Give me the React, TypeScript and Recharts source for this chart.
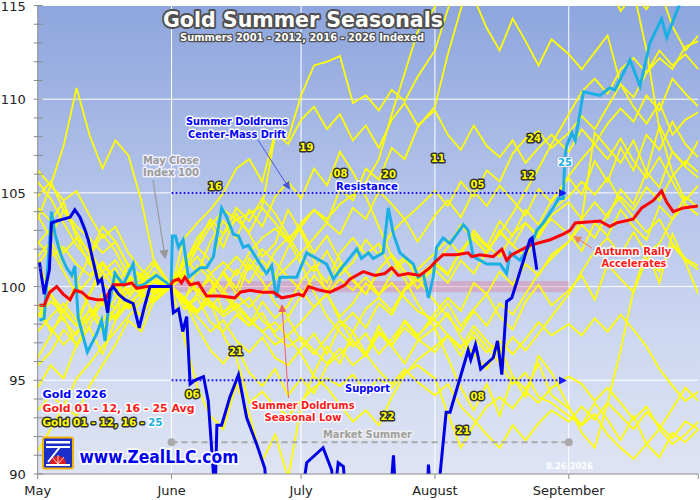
import React from 'react';
import { LineChart, Line, XAxis, YAxis, CartesianGrid, ReferenceLine, ReferenceArea, ReferenceDot } from 'recharts';

// x axis = calendar days since May 1 (Oct 1 = 153)
const monthTicks = [0, 31, 61, 92, 123, 153];
const monthNames = ['May', 'June', 'July', 'August', 'September', ''];
const yTicks = [90, 91, 92, 93, 94, 95, 96, 97, 98, 99, 100, 101, 102, 103, 104, 105, 106, 107, 108, 109, 110, 111, 112, 113, 114, 115];

// sample days shared by the older summers (10 per month)
const yearDays = [
  0, 3, 6, 9, 12, 15, 18, 21, 24, 27,
  31, 34, 37, 40, 43, 46, 49, 52, 55, 58,
  61, 64, 67, 70, 73, 76, 79, 82, 85, 88,
  92, 95, 98, 101, 104, 107, 110, 113, 116, 119,
  123, 126, 129, 132, 135, 138, 141, 144, 147, 150,
  153,
];

const gold01 = [102.3, 103.1, 101.8, 102.6, 101.2, 100.4, 101.0, 99.6, 100.3, 99.8,
  100, 99.2, 98.6, 99.5, 100.8, 101.6, 100.9, 102.0, 101.3, 100.5,
  99.8, 98.9, 99.6, 98.4, 99.1, 100.2, 99.5, 100.7, 101.4, 100.9,
  101.8, 102.5, 101.7, 103.0, 102.2, 101.6, 102.8, 103.4, 102.6, 103.8,
  104.5, 103.6, 108.2, 107.4, 106.6, 107.8, 106.1, 108.6, 107.2, 106.4, 105.8];
const gold02 = [94.6, 95.8, 95.1, 96.9, 97.8, 96.4, 98.2, 99.1, 98.5, 99.4,
  100, 101.2, 102.6, 103.4, 102.1, 103.9, 102.8, 101.6, 102.3, 104.1,
  102.9, 101.4, 99.6, 98.2, 97.1, 96.3, 97.5, 96.8, 98.2, 97.4,
  98.3, 99.1, 97.9, 98.8, 99.6, 98.4, 97.7, 99.2, 100.1, 99.0,
  99.8, 100.6, 99.3, 101.2, 100.4, 99.7, 101.5, 100.8, 102.2, 101.4, 100.9];
const gold03 = [95.8, 96.5, 97.7, 96.9, 98.3, 99.6, 98.8, 100.4, 99.7, 100.6,
  100, 99.1, 98.4, 97.6, 98.2, 97.1, 96.5, 97.3, 96.2, 95.8,
  96.7, 97.5, 96.4, 97.9, 98.6, 97.8, 99.1, 98.5, 99.8, 100.4,
  101.2, 100.6, 101.9, 102.8, 102.1, 103.5, 102.7, 104.1, 103.3, 104.6,
  105.8, 104.9, 106.7, 105.6, 107.4, 106.2, 108.1, 107.3, 108.8, 107.6, 106.9];
const gold04 = [103.8, 102.6, 104.1, 102.9, 101.7, 103.2, 102.4, 101.1, 100.6, 101.4,
  100, 99.3, 98.7, 99.6, 100.8, 99.9, 101.5, 100.6, 101.9, 102.6,
  103.1, 101.8, 102.7, 101.4, 100.3, 99.6, 100.9, 101.7, 100.8, 99.9,
  101.2, 102.1, 103.3, 102.5, 101.8, 103.0, 102.2, 101.6, 102.9, 103.6,
  102.8, 101.9, 103.4, 102.7, 104.1, 103.2, 102.5, 104.3, 103.6, 104.8, 104.2];
const gold05 = [104.8, 105.6, 104.1, 103.2, 102.6, 101.8, 102.4, 101.1, 100.5, 99.8,
  100, 101.4, 102.3, 103.6, 102.8, 104.2, 103.5, 104.7, 103.9, 102.7,
  101.6, 100.8, 101.9, 100.6, 101.3, 102.5, 101.7, 102.9, 103.6, 102.4,
  103.8, 104.6, 103.7, 105.1, 104.3, 105.4, 104.6, 103.8, 105.2, 104.5,
  105.9, 106.8, 107.6, 108.7, 109.5, 108.8, 110.2, 109.4, 111.1, 110.3, 109.6];
const gold06 = [103.6, 105.4, 107.5, 110.6, 108.1, 106.3, 107.8, 107.0, 104.6, 101.3,
  100, 97.2, 94.6, 93.1, 92.4, 94.8, 93.2, 90.7, 92.1, 89.8,
  93.6, 95.4, 96.8, 95.9, 97.6, 96.4, 97.9, 96.8, 95.9, 97.1,
  97.8, 98.6, 97.3, 96.4, 95.6, 96.8, 95.2, 94.5, 95.9, 94.2,
  93.5, 92.6, 93.8, 92.9, 91.8, 93.1, 91.6, 92.4, 93.5, 94.6, 93.9];
const gold07 = [101.2, 102.1, 100.8, 99.6, 100.4, 101.3, 100.2, 99.1, 99.7, 100.3,
  100, 98.8, 99.4, 98.1, 97.6, 98.5, 97.9, 99.2, 98.3, 99.0,
  100.3, 101.1, 100.2, 101.8, 102.6, 101.7, 102.3, 100.9, 101.6, 100.4,
  99.2, 98.4, 97.6, 98.7, 97.9, 99.1, 98.5, 99.6, 100.7, 101.5,
  102.4, 103.6, 104.5, 103.7, 105.2, 104.4, 106.1, 105.3, 107.2, 106.5, 107.8];
const gold08 = [99.1, 97.6, 98.4, 96.8, 97.9, 99.3, 98.2, 100.6, 99.4, 100.8,
  100, 101.6, 100.7, 102.4, 103.5, 102.6, 104.1, 103.2, 104.8, 105.6,
  104.7, 106.3, 105.4, 107.2, 106.1, 104.8, 103.2, 101.6, 100.4, 99.1,
  97.8, 96.2, 94.6, 93.4, 94.8, 93.1, 95.2, 94.1, 96.3, 95.4,
  93.6, 92.2, 91.4, 93.8, 96.6, 99.8, 101.9, 100.2, 102.8, 101.3, 99.6];
const gold09 = [91.2, 92.4, 93.6, 93.1, 94.7, 95.8, 96.9, 98.2, 97.6, 99.3,
  100, 99.2, 97.8, 96.6, 95.9, 96.8, 95.4, 94.7, 95.6, 94.2,
  95.1, 94.3, 95.8, 96.4, 97.1, 96.3, 97.6, 96.9, 97.8, 97.2,
  96.5, 97.4, 96.7, 97.9, 97.1, 96.4, 97.3, 96.6, 97.5, 98.4,
  99.6, 100.8, 101.9, 102.6, 101.7, 102.9, 101.8, 102.3, 103.6, 104.4, 103.8];
const gold10 = [96.2, 97.4, 98.8, 97.9, 99.6, 101.2, 100.4, 98.9, 99.8, 100.6,
  100, 101.3, 102.1, 101.4, 102.8, 103.6, 102.9, 104.2, 103.4, 102.5,
  101.2, 99.7, 98.4, 97.6, 96.8, 97.5, 96.4, 97.2, 98.1, 97.3,
  98.6, 99.4, 98.7, 100.2, 99.6, 100.8, 100.1, 101.2, 100.6, 101.7,
  102.4, 103.3, 102.6, 103.9, 104.8, 104.1, 105.3, 104.6, 105.9, 106.7, 106.1];
const gold11 = [101.4, 99.6, 98.2, 97.4, 98.8, 97.6, 98.9, 99.8, 100.6, 99.7,
  100, 100.8, 99.6, 98.9, 99.7, 100.9, 100.2, 101.4, 100.6, 102.1,
  103.2, 104.1, 103.4, 105.2, 104.6, 106.3, 105.7, 107.4, 106.8, 108.5,
  109.6, 112.4, 114.8, 117.2, 116.1, 118.5, 120.2, 118.1, 119.6, 121.3,
  122.4, 121.6, 119.4, 118.2, 117.3, 115.8, 112.6, 108.4, 106.1, 104.6, 105.4];
const gold12 = [105.6, 104.7, 103.4, 102.2, 101.4, 100.2, 99.6, 98.8, 99.4, 99.9,
  100, 99.2, 101.1, 100.4, 98.6, 99.4, 101.2, 100.3, 99.1, 98.4,
  99.5, 100.6, 99.8, 101.2, 100.4, 99.6, 100.9, 101.7, 100.8, 100.3,
  100.9, 100.2, 101.4, 100.7, 101.9, 102.8, 103.9, 105.1, 106.3, 107.6,
  109.2, 110.4, 111.1, 110.3, 111.6, 112.2, 111.4, 112.6, 111.8, 112.4, 111.6];
const gold16 = [106.2, 105.4, 104.6, 105.1, 103.8, 102.6, 103.2, 101.8, 100.9, 100.4,
  100, 102.6, 103.4, 104.1, 105.0, 106.3, 106.8, 105.6, 108.2, 107.6,
  108.9, 109.6, 108.4, 109.2, 107.8, 108.6, 107.4, 108.9, 109.8, 108.6,
  109.4, 108.1, 107.3, 108.6, 107.5, 106.9, 107.8, 106.6, 107.4, 108.1,
  107.2, 108.4, 107.6, 106.8, 107.9, 106.7, 105.8, 106.9, 105.6, 104.4, 103.8];
const gold17 = [98.6, 97.8, 96.9, 97.6, 98.4, 99.1, 98.3, 99.4, 100.2, 99.6,
  100, 100.9, 101.6, 100.7, 99.8, 98.9, 99.4, 98.2, 97.6, 98.3,
  97.1, 96.4, 97.3, 98.2, 97.6, 98.8, 99.4, 98.7, 99.9, 100.6,
  101.3, 100.7, 101.9, 102.6, 101.8, 102.9, 102.2, 103.4, 102.7, 104.1,
  104.8, 105.6, 104.9, 105.8, 104.6, 103.7, 102.9, 103.6, 102.3, 101.5, 101.1];
const gold18 = [102.4, 101.6, 102.1, 101.2, 100.6, 101.3, 100.4, 99.8, 100.7, 100.2,
  100, 100.6, 99.8, 100.4, 99.6, 98.7, 97.9, 98.6, 97.4, 96.8,
  97.3, 96.6, 95.9, 96.7, 95.8, 96.4, 95.5, 94.8, 95.6, 94.9,
  94.2, 94.8, 93.6, 92.9, 92.1, 91.4, 92.6, 91.8, 92.7, 93.4,
  92.8, 93.6, 92.9, 93.8, 93.1, 92.4, 93.3, 92.6, 91.9, 92.8, 92.4];
const gold19 = [98.4, 99.2, 98.6, 97.9, 98.7, 97.8, 98.5, 99.1, 98.4, 99.6,
  100, 100.8, 102.1, 103.2, 104.1, 103.6, 103.9, 104.3, 108.1, 107.9,
  110.2, 111.8, 112.0, 112.3, 109.8, 110.2, 109.4, 110.5, 109.9, 111.2,
  112.6, 114.8, 116.9, 118.4, 117.6, 118.9, 117.2, 118.1, 116.9, 117.8,
  118.6, 116.9, 115.4, 116.2, 114.7, 115.6, 114.8, 115.9, 113.9, 112.6, 113.4];
const gold20 = [97.6, 98.4, 99.1, 98.2, 99.6, 100.8, 99.9, 101.2, 100.4, 99.7,
  100, 98.8, 99.6, 100.7, 101.3, 100.6, 101.8, 102.6, 103.1, 102.4,
  103.4, 104.1, 103.6, 104.4, 104.9, 105.6, 106.8, 109.2, 111.4, 113.6,
  114.9, 117.2, 118.6, 115.4, 113.8, 112.6, 114.3, 113.1, 111.8, 113.2,
  112.4, 111.6, 112.5, 113.4, 110.8, 109.6, 108.7, 109.8, 108.1, 108.9, 109.3];
const gold21 = [93.4, 94.2, 93.6, 95.1, 95.9, 96.8, 97.6, 98.4, 99.2, 99.6,
  100, 99.4, 98.7, 99.2, 97.4, 96.2, 93.8, 94.4, 93.6, 93.1,
  93.9, 94.6, 95.1, 94.7, 95.3, 94.4, 95.1, 94.6, 95.4, 95.8,
  95.1, 93.2, 91.4, 92.6, 93.6, 94.1, 93.5, 94.4, 93.8, 94.6,
  95.2, 94.8, 93.9, 94.6, 93.8, 92.9, 93.6, 92.4, 91.6, 92.1, 92.8];
const gold22 = [101.6, 102.4, 101.2, 100.3, 98.9, 98.1, 99.4, 100.6, 100.1, 101.2,
  100, 99.4, 100.2, 99.1, 98.4, 98.9, 98.2, 97.6, 98.1, 97.3,
  96.4, 95.2, 94.6, 93.7, 92.8, 93.4, 92.6, 94.1, 95.3, 96.1,
  96.8, 97.4, 96.3, 97.6, 96.8, 95.9, 94.8, 95.4, 94.1, 93.8,
  93.1, 92.6, 93.2, 92.1, 91.4, 90.8, 91.6, 90.9, 92.2, 91.7, 92.4];
const gold23 = [104.2, 103.5, 104.5, 102.6, 101.9, 100.8, 101.4, 100.3, 99.6, 99.2,
  100, 100.6, 99.8, 99.2, 98.6, 99.1, 98.3, 97.6, 96.9, 97.4,
  98.1, 98.9, 99.6, 100.4, 99.8, 100.5, 99.6, 100.2, 99.4, 98.7,
  98.2, 97.4, 96.8, 97.3, 96.5, 97.1, 96.4, 97.2, 98.1, 97.4,
  98.0, 97.4, 98.3, 97.6, 98.5, 97.7, 96.8, 95.6, 94.7, 93.9, 94.4];
const gold24 = [98.4, 99.6, 98.7, 100.2, 101.6, 102.8, 101.9, 100.6, 99.4, 99.9,
  100, 99.1, 98.6, 99.8, 100.7, 99.6, 98.9, 99.7, 100.4, 101.1,
  101.8, 102.6, 103.4, 102.8, 104.2, 103.6, 105.1, 104.4, 103.6, 104.2,
  105.1, 104.3, 105.6, 104.8, 106.2, 105.6, 107.1, 107.9, 108.3, 107.4,
  108.2, 109.1, 108.4, 109.6, 110.8, 110.1, 111.4, 112.2, 111.6, 112.8, 113.1];

// [day, index] pairs
const gold2025 = [
  [0.4, 98.2], [1.5, 98.3], [3.2, 104.0], [4.0, 102.8], [5.5, 101.6], [6.7, 101.0], [7.9, 100.6], [8.6, 101.1],
  [9.4, 98.3], [11.5, 96.5], [13.7, 97.5], [14.8, 98.2], [15.6, 97.1], [16.4, 98.9], [17.9, 100.7], [19.8, 100.1],
  [22.1, 101.2], [22.9, 100.0], [24.5, 100.1], [27.5, 100.6], [29.9, 100.2], [30.9, 100], [31.2, 102.7], [31.9, 102.7],
  [32.6, 102.1], [33.7, 102.5], [34.9, 100.5], [36.0, 100.7], [37.6, 101.0], [39.1, 101.0], [40.7, 101.6], [42.6, 104.2],
  [43.8, 103.7], [45.3, 102.8], [46.5, 102.7], [47.6, 102.1], [48.8, 102.2], [49.9, 101.8], [51.5, 101.2], [53.0, 100.7],
  [54.2, 101.1], [55.3, 99.4], [56.1, 100.5], [60.0, 100.5], [62.3, 101.8], [64.6, 101.5], [66.9, 101.2], [68.5, 100.4],
  [70.4, 101.0], [73.9, 102.0], [75.0, 101.5], [76.6, 101.8], [77.7, 101.5], [80.0, 101.8], [81.2, 104.2], [82.4, 102.8],
  [83.9, 101.8], [87.0, 101.2], [88.1, 100.5], [89.3, 100.7], [90.5, 99.4], [91.6, 100.5], [92.4, 102.1], [93.9, 102.6],
  [95.5, 102.3], [98.6, 103.3], [99.7, 103.0], [100.9, 101.6], [104.0, 101.2], [107.1, 101.2], [108.6, 100.7], [109.4, 101.8],
  [111.7, 101.4], [114.8, 102.5], [115.6, 103.0], [117.1, 103.4], [119.4, 104.2], [120.6, 104.7], [121.7, 104.7], [122.1, 106.9],
  [122.5, 107.5], [123.7, 108.2], [124.5, 107.8], [126.4, 110.4], [130.2, 110.2], [132.5, 110.6], [133.7, 110.5], [137.2, 112.1],
  [139.5, 110.7], [141.8, 113.0], [144.5, 114.3], [145.7, 113.3], [148.7, 115.1], [151, 116.2], [153, 116.8],
];

const gold2026 = [
  [0.4, 101.3], [1.5, 99.6], [2.7, 100.9], [3.2, 103.4], [4.4, 103.5], [5.9, 103.6], [7.5, 103.7], [8.6, 104.1],
  [9.8, 103.7], [11.0, 103.0], [11.7, 102.5], [14.0, 100.2], [14.8, 100.4], [16.2, 98.6], [16.7, 99.8], [17.5, 100.0],
  [18.7, 99.6], [20.2, 99.3], [22.1, 99.1], [23.5, 97.8], [24.8, 99.0], [26.0, 100.0], [30.6, 100.0], [30.9, 100],
  [31.4, 98.6], [32.6, 98.8], [33.6, 97.6], [34.5, 98.4], [35.3, 94.8], [36.4, 95.0], [38.4, 95.2], [39.5, 93.9],
  [40.7, 90.0], [41.0, 88], [41.5, 92.6], [42.6, 92.6], [44.5, 94.1], [46.5, 95.3], [48.4, 93.0], [50.7, 91.6],
  [52.6, 90.3], [53.3, 88], [60.7, 88], [62.3, 90.6], [66.1, 91.4], [68.1, 90.2], [68.6, 88.6], [69.6, 90.6],
  [70.8, 90.4], [71.6, 88], [81.4, 88], [82.4, 91.0], [83.1, 88], [90.0, 88], [90.5, 90.5], [91.2, 88],
  [93.2, 90.0], [94.6, 93.3], [95.5, 93.3], [99.7, 96.6], [100.3, 96.1], [101.4, 96.9], [102.6, 95.6], [105.5, 96.2],
  [106.5, 97.1], [107.5, 95.3], [108.6, 99.2], [109.8, 99.4], [113.2, 101.9], [114.0, 102.5], [114.5, 102.6], [115.6, 100.9],
];

const goldAvg = [
  [0.4, 99.0], [1.5, 99.0], [2.8, 99.7], [4.4, 100.0], [5.9, 99.6], [7.5, 99.3], [8.6, 99.8], [10.2, 99.7],
  [11.7, 99.4], [13.7, 99.3], [15.6, 99.3], [17.5, 100.1], [20.2, 100.1], [21.8, 100.2], [22.9, 99.9], [25.2, 100.0],
  [30.6, 100], [31.4, 100.3], [32.6, 100.4], [33.3, 100.2], [34.1, 100.5], [35.3, 100.1], [37.2, 100.2], [39.1, 99.5],
  [42.2, 99.5], [45.7, 99.4], [46.9, 99.7], [49.2, 99.8], [52.2, 99.7], [54.6, 99.7], [56.5, 99.4], [58.8, 99.5],
  [60.4, 99.6], [61.5, 99.5], [62.7, 100.0], [65.4, 99.8], [67.7, 99.7], [69.6, 99.9], [71.2, 100.1], [72.3, 100.4],
  [75.4, 100.8], [78.1, 100.6], [80.4, 100.7], [82.0, 101.0], [83.5, 100.6], [85.8, 100.7], [88.5, 100.6], [90.8, 101.0],
  [92.0, 101.3], [93.9, 101.7], [97.0, 101.7], [99.7, 101.8], [100.5, 101.6], [102.4, 101.7], [105.5, 101.6], [107.5, 102.0],
  [108.6, 101.4], [109.8, 101.7], [114.0, 102.2], [118.7, 102.5], [121.7, 102.8], [123.3, 103.0], [124.5, 103.4], [130.2, 103.5],
  [132.5, 103.2], [134.1, 103.4], [137.9, 103.6], [139.9, 104.2], [142.6, 104.6], [144.5, 105.1], [145.7, 104.5], [147.2, 104.0],
  [149.5, 104.2], [152.9, 104.3],
];

const yellowYears = [gold01, gold02, gold03, gold04, gold05, gold06, gold07, gold08, gold09, gold10, gold11, gold12,
  gold16, gold17, gold18, gold19, gold20, gold21, gold22, gold23, gold24];

const seriesFromValues = (vals: number[]) => yearDays.map((d, i) => ({ d, v: vals[i] }));
const seriesFromPairs = (pairs: number[][]) => pairs.map(([d, v]) => ({ d, v }));

const FONT = 'DejaVu Sans, Verdana, sans-serif';

const YTick = (props: any) => {
  const { x, y, payload } = props;
  const ax = x + 12;
  const v = payload.value;
  return (
    <g>
      <line x1={ax - 4} x2={ax + 5} y1={y} y2={y} stroke="#8a8a8a" />
      {v % 5 === 0 && (
        <text x={x} y={y} dy={5} textAnchor="end" fontSize={13} fontFamily={FONT} fill="#222">{v}</text>
      )}
    </g>
  );
};

const Outlined = ({ x, y, children, fill, stroke, size, sw = 3, anchor = 'middle', len }: any) => (
  <text x={x} y={y} textAnchor={anchor} fontFamily={FONT} fontWeight="bold" fontSize={size} fill={fill}
    stroke={stroke} strokeWidth={sw} strokeLinejoin="round" paintOrder="stroke"
    textLength={len} lengthAdjust={len ? 'spacingAndGlyphs' : undefined}>{children}</text>
);

const yearTags = [
  { t: '16', x: 215, y: 190 }, { t: '19', x: 306.5, y: 151 }, { t: '08', x: 340.5, y: 177 },
  { t: '20', x: 389, y: 178 }, { t: '11', x: 438, y: 162 }, { t: '05', x: 477.5, y: 188 },
  { t: '24', x: 534, y: 142 }, { t: '12', x: 528, y: 179 }, { t: '21', x: 236, y: 355 },
  { t: '06', x: 192.5, y: 398 }, { t: '22', x: 387.5, y: 420 }, { t: '08', x: 477.5, y: 400 },
  { t: '21', x: 463, y: 434 },
];

const Overlay = () => (
  <svg width={700} height={500} style={{ position: 'absolute', left: 0, top: 0, pointerEvents: 'none' }}>
    <defs>
      <marker id="ahBlue" markerWidth="8" markerHeight="8" refX="6" refY="4" orient="auto">
        <path d="M0,0 L8,4 L0,8 z" fill="#4a55dd" />
      </marker>
      <marker id="ahGray" markerWidth="8" markerHeight="8" refX="6" refY="4" orient="auto">
        <path d="M0,0 L8,4 L0,8 z" fill="#999" />
      </marker>
      <marker id="ahRed" markerWidth="8" markerHeight="8" refX="6" refY="4" orient="auto">
        <path d="M0,0 L8,4 L0,8 z" fill="#f06060" />
      </marker>
      <marker id="ahOrange" markerWidth="8" markerHeight="8" refX="6" refY="4" orient="auto">
        <path d="M0,0 L8,4 L0,8 z" fill="#f08050" />
      </marker>
    </defs>

    <Outlined x={303} y={27} fill="#fff" stroke="#505050" size={21} sw={4} len={280}>Gold Summer Seasonals</Outlined>
    <Outlined x={302} y={40.5} fill="#fff" stroke="#505050" size={10} sw={2.5} len={244}>Summers 2001 - 2012, 2016 - 2026 Indexed</Outlined>

    <Outlined x={237} y={125} fill="#0000ff" stroke="#fff" size={10.5} len={102}>Summer Doldrums</Outlined>
    <Outlined x={237} y={137.5} fill="#0000ff" stroke="#fff" size={10.5} len={98}>Center-Mass Drift</Outlined>
    <line x1={258} y1={140} x2={289} y2={188} stroke="#4a55dd" strokeWidth={1} markerEnd="url(#ahBlue)" />

    <Outlined x={171} y={164} fill="#9a9a9a" stroke="#eef" size={10.5} len={56}>May Close</Outlined>
    <Outlined x={171} y={176} fill="#9a9a9a" stroke="#eef" size={10.5} len={56}>Index 100</Outlined>
    <line x1={153} y1={180} x2={165} y2={257} stroke="#999" strokeWidth={1.2} markerEnd="url(#ahGray)" />

    <Outlined x={367} y={189.5} fill="#0000ff" stroke="#fff" size={10.5} len={62}>Resistance</Outlined>
    <path d="M559,189 L567,193 L559,197 z" fill="#1a1aff" />
    <Outlined x={367.5} y={392} fill="#0000ff" stroke="#fff" size={10.5} len={45}>Support</Outlined>
    <path d="M559,376.5 L567,380.5 L559,384.5 z" fill="#1a1aff" />

    <Outlined x={303} y={409} fill="#ff1a1a" stroke="#fff" size={10.5} len={103}>Summer Doldrums</Outlined>
    <Outlined x={303} y={420.5} fill="#ff1a1a" stroke="#fff" size={10.5} len={77}>Seasonal Low</Outlined>
    <line x1={288.5} y1={398} x2={282} y2={306} stroke="#f06060" strokeWidth={1} markerEnd="url(#ahRed)" />

    <Outlined x={633} y={255} fill="#ff1a1a" stroke="#fff" size={10.5} len={77}>Autumn Rally</Outlined>
    <Outlined x={634} y={266.5} fill="#ff1a1a" stroke="#fff" size={10.5} len={65}>Accelerates</Outlined>
    <line x1={592} y1={248} x2={575} y2={237} stroke="#f08050" strokeWidth={1} markerEnd="url(#ahOrange)" />

    <Outlined x={367.5} y={438} fill="#a0a0a0" stroke="#eee" size={10.5} len={89}>Market Summer</Outlined>
    <Outlined x={569.5} y={469} fill="#fff" stroke="none" sw={0} size={9} len={47}>8.26.2026</Outlined>

    {yearTags.map((t, i) => (
      <Outlined key={i} x={t.x} y={t.y} fill="#ffff00" stroke="#303030" size={10} sw={3}>{t.t}</Outlined>
    ))}
    <rect x={557} y={157} width={16} height={10} rx={2} fill="#e8eef8" stroke="#aab" strokeWidth={0.8} />
    <Outlined x={565} y={165.5} fill="#1ab0e6" stroke="#fff" size={10} sw={1.5}>25</Outlined>

    <Outlined x={42.5} y={398} anchor="start" fill="#0000ff" stroke="#fff" size={10.5} len={64}>Gold 2026</Outlined>
    <Outlined x={42.5} y={412} anchor="start" fill="#ff1a1a" stroke="#fff" size={10.5} len={152}>Gold 01 - 12, 16 - 25 Avg</Outlined>
    <text x={42.5} y={426} fontFamily={FONT} fontWeight="bold" fontSize={10.5} stroke="#303030" strokeWidth={3}
      strokeLinejoin="round" paintOrder="stroke">
      <tspan fill="#ffff00">Gold 01 - 12, 16 - </tspan>
      <tspan fill="#1ab0e6" stroke="#fff">25</tspan>
    </text>

    <g>
      <rect x={43} y={437.5} width={30} height={31} rx={2} fill="#1a2fc8" stroke="#f0b400" strokeWidth={2} />
      <rect x={46} y={441} width={24} height={2.5} fill="#fff" />
      <rect x={46} y={446} width={24} height={2} fill="#fff" />
      <path d="M48,462 L60,447 L68,447" stroke="#fff" strokeWidth={2} fill="none" />
      <path d="M50,464 A8,8 0 0 1 66,464 Z" fill="#e21d1d" />
      <path d="M58,464 L52,457 M58,464 L58,455 M58,464 L64,457" stroke="#fff" strokeWidth={0.8} />
      <rect x={46} y={464} width={24} height={2} fill="#fff" />
    </g>
    <Outlined x={79.5} y={463} anchor="start" fill="#0000ee" stroke="#fff" size={17} sw={3.5} len={159}>www.ZealLLC.com</Outlined>
  </svg>
);

export default function App() {
  return (
    <div style={{ position: 'absolute', left: 0, top: 0, width: 700, height: 500, background: '#fff', overflow: 'hidden' }}>
      <div
        style={{
          position: 'absolute', left: 37.7, top: 5.5, width: 662.3, height: 468.5,
          background: 'linear-gradient(to bottom, #8ea6de 0%, #a5b8e5 25%, #bccaec 50%, #ced8f1 72%, #dfe4f4 100%)',
        }}
      />
      <div style={{ position: 'absolute', left: 0, top: 0 }}>
        <LineChart width={700} height={500} margin={{ top: 5.5, right: 1.7, bottom: 0, left: 0 }}>
          <CartesianGrid stroke="#ffffff" strokeWidth={1} horizontalValues={[95, 100, 105, 110]} verticalValues={[31, 61, 92, 123]} />
          <XAxis
            type="number" dataKey="d" domain={[0, 153]} ticks={monthTicks} interval={0} allowDataOverflow
            tickFormatter={(v: number) => monthNames[monthTicks.indexOf(v)] ?? ''}
            height={26} tickSize={5} tickMargin={7} stroke="#8a8a8a"
            tick={{ fontSize: 13, fontFamily: FONT, fill: '#222' }}
          />
          <YAxis
            type="number" domain={[90, 115]} ticks={yTicks} interval={0} allowDataOverflow width={37.7}
            tickSize={0} tickMargin={12} tickLine={false} stroke="#8a8a8a" tick={<YTick />}
          />
          {yellowYears.map((vals, i) => (
            <Line key={i} data={seriesFromValues(vals)} dataKey="v" type="linear" stroke="#ffff00" strokeWidth={1.8}
              dot={false} isAnimationActive={false} />
          ))}
          <ReferenceArea x1={31} x2={123} y1={99.7} y2={100.3} fill="#e0708f" fillOpacity={0.35} stroke="none" />
          <ReferenceLine segment={[{ x: 31, y: 105 }, { x: 122, y: 105 }]} stroke="#1a1aff" strokeWidth={2} strokeDasharray="2 2" />
          <ReferenceLine segment={[{ x: 31, y: 95 }, { x: 122, y: 95 }]} stroke="#1a1aff" strokeWidth={2} strokeDasharray="2 2" />
          <ReferenceLine segment={[{ x: 31, y: 91.7 }, { x: 123, y: 91.7 }]} stroke="#aaaaaa" strokeWidth={2} strokeDasharray="6 4" />
          <ReferenceDot x={31} y={91.7} r={4} fill="#aaaaaa" stroke="none" />
          <ReferenceDot x={123} y={91.7} r={4} fill="#aaaaaa" stroke="none" />
          <Line data={seriesFromPairs(gold2025)} dataKey="v" type="linear" stroke="#1ab0e6" strokeWidth={3}
            dot={false} isAnimationActive={false} />
          <Line data={seriesFromPairs(goldAvg)} dataKey="v" type="linear" stroke="#ff0000" strokeWidth={3}
            dot={false} isAnimationActive={false} />
          <Line data={seriesFromPairs(gold2026)} dataKey="v" type="linear" stroke="#0000e6" strokeWidth={3}
            dot={false} isAnimationActive={false} />
        </LineChart>
      </div>
      <Overlay />
    </div>
  );
}
